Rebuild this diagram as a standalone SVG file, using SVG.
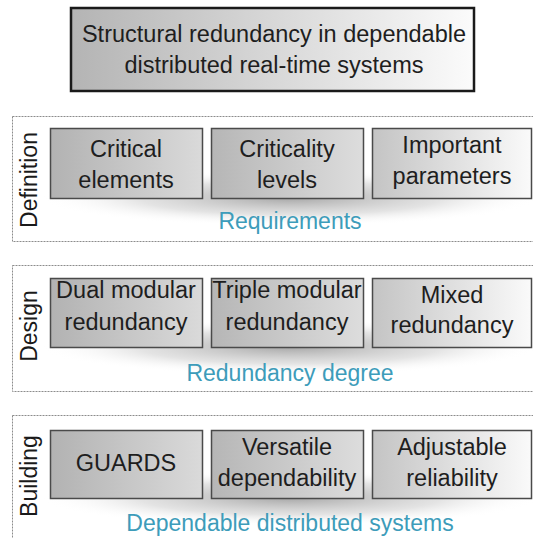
<svg xmlns="http://www.w3.org/2000/svg" width="533" height="538" viewBox="0 0 533 538">
<defs>
<linearGradient id="gTitle" x1="0" y1="0" x2="1" y2="0"><stop offset="0" stop-color="#b4b4b4"/><stop offset="1" stop-color="#fbfbfb"/></linearGradient>
<linearGradient id="g1" x1="0" y1="0" x2="1" y2="0"><stop offset="0" stop-color="#b2b2b2"/><stop offset="1" stop-color="#dadada"/></linearGradient>
<linearGradient id="g2" x1="0" y1="0" x2="1" y2="0"><stop offset="0" stop-color="#b6b6b6"/><stop offset="1" stop-color="#dddddd"/></linearGradient>
<linearGradient id="g3" x1="0" y1="0" x2="1" y2="0"><stop offset="0" stop-color="#c4c4c4"/><stop offset="1" stop-color="#fafafa"/></linearGradient>
<radialGradient id="shadow" cx="0.5" cy="0.5" r="0.5"><stop offset="0" stop-color="#8a8a8a" stop-opacity="0.75"/><stop offset="0.6" stop-color="#b0b0b0" stop-opacity="0.35"/><stop offset="1" stop-color="#ffffff" stop-opacity="0"/></radialGradient>
</defs>
<style>
.panel{fill:#ffffff;stroke:#8c8c8c;stroke-width:1;stroke-dasharray:2 1}
.box{stroke:#4a4a4a;stroke-width:1.5}
.t{font-family:"Liberation Sans",Arial,sans-serif;font-size:23.5px;fill:#1e1e1e;text-anchor:middle}
.lbl{font-family:"Liberation Sans",Arial,sans-serif;font-size:23px;fill:#3d9cba;text-anchor:middle}
.side{font-family:"Liberation Sans",Arial,sans-serif;font-size:23px;fill:#1a1a1a;text-anchor:middle}
</style>
<rect width="533" height="538" fill="#ffffff"/>

<g id="title">
<rect x="71" y="8" width="403" height="83" fill="url(#gTitle)" stroke="#1a1a1a" stroke-width="2.5"/>
<text class="t" x="274" y="42">Structural redundancy in dependable</text>
<text class="t" x="274" y="73">distributed real-time systems</text>
</g>

<g id="definition">
<rect class="panel" x="12.5" y="116.5" width="530" height="125"/>
<ellipse cx="290" cy="198" rx="250" ry="28" fill="url(#shadow)"/>
<text class="side" transform="translate(37,180) rotate(-90)">Definition</text>
<text class="lbl" x="290" y="229">Requirements</text>
</g>
<g id="critical-elements">
<rect class="box" x="50.5" y="128.5" width="152" height="70" fill="url(#g1)"/>
<text class="t" x="126" y="157">Critical</text>
<text class="t" x="126" y="188">elements</text>
</g>
<g id="criticality-levels">
<rect class="box" x="211.5" y="128.5" width="152" height="70" fill="url(#g2)"/>
<text class="t" x="287" y="157">Criticality</text>
<text class="t" x="287" y="188">levels</text>
</g>
<g id="important-parameters">
<rect class="box" x="372.5" y="128.5" width="159" height="70" fill="url(#g3)"/>
<text class="t" x="452" y="153">Important</text>
<text class="t" x="452" y="184">parameters</text>
</g>

<g id="design">
<rect class="panel" x="12.5" y="265.5" width="530" height="126"/>
<ellipse cx="290" cy="347" rx="250" ry="28" fill="url(#shadow)"/>
<text class="side" transform="translate(37,326) rotate(-90)">Design</text>
<text class="lbl" x="290" y="381">Redundancy degree</text>
</g>
<g id="dual-modular">
<rect class="box" x="50.5" y="278.5" width="152" height="69" fill="url(#g1)"/>
<text class="t" x="126" y="298">Dual modular</text>
<text class="t" x="126" y="330">redundancy</text>
</g>
<g id="triple-modular">
<rect class="box" x="211.5" y="278.5" width="152" height="69" fill="url(#g2)"/>
<text class="t" x="287" y="298">Triple modular</text>
<text class="t" x="287" y="330">redundancy</text>
</g>
<g id="mixed-redundancy">
<rect class="box" x="372.5" y="278.5" width="159" height="69" fill="url(#g3)"/>
<text class="t" x="452" y="303">Mixed</text>
<text class="t" x="452" y="333">redundancy</text>
</g>

<g id="building">
<rect class="panel" x="12.5" y="415.5" width="530" height="140"/>
<ellipse cx="290" cy="498" rx="250" ry="28" fill="url(#shadow)"/>
<text class="side" transform="translate(37,476) rotate(-90)">Building</text>
<text class="lbl" x="290" y="531">Dependable distributed systems</text>
</g>
<g id="guards">
<rect class="box" x="50.5" y="430.5" width="152" height="68" fill="url(#g1)"/>
<text class="t" x="126" y="471">GUARDS</text>
</g>
<g id="versatile">
<rect class="box" x="211.5" y="430.5" width="152" height="68" fill="url(#g2)"/>
<text class="t" x="287" y="455">Versatile</text>
<text class="t" x="287" y="486">dependability</text>
</g>
<g id="adjustable">
<rect class="box" x="372.5" y="430.5" width="159" height="68" fill="url(#g3)"/>
<text class="t" x="452" y="455">Adjustable</text>
<text class="t" x="452" y="486">reliability</text>
</g>
<g id="connectors"/>
</svg>
